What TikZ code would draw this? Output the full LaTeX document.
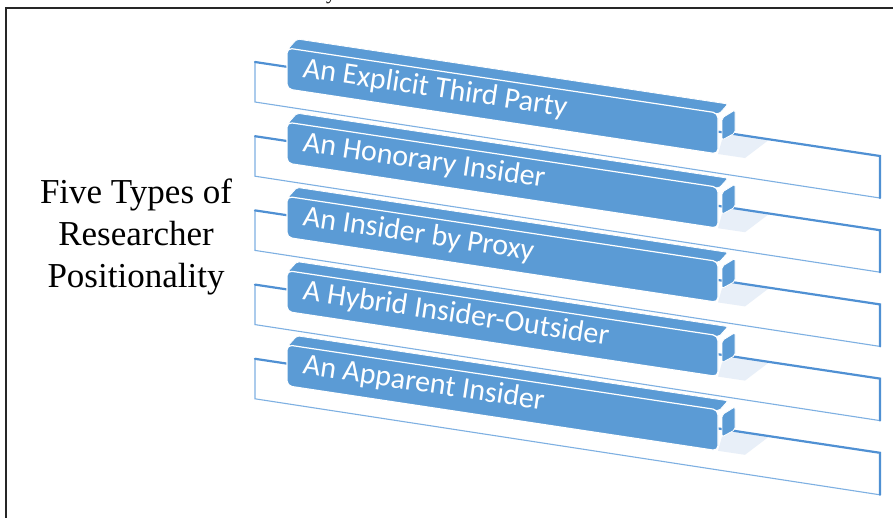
\documentclass[tikz,border=0pt]{standalone}
\usepackage{fontspec}
\newfontfamily\barfont{Carlito}
\newfontfamily\titlefont{Liberation Serif}
\definecolor{barblue}{HTML}{5B9BD5}
\definecolor{lineblue}{HTML}{4F90D3}
\definecolor{thinblue}{HTML}{7EB0E2}
\definecolor{shadowblue}{HTML}{E8EFF8}
\begin{document}
\begin{tikzpicture}[x=1pt,y=-1pt,
  panelthick/.style={draw=lineblue,line width=2.2pt,line cap=round},
  panelthin/.style={draw=thinblue,line width=1.1pt,line cap=round},
  barface/.style={fill=barblue,draw=white,line width=1.2pt,rounded corners=5pt},
  bartop/.style={fill=barblue,draw=white,line width=0.8pt,rounded corners=2pt},
  bartext/.style={text=white,font=\barfont\fontsize{30}{34}\selectfont,anchor=base west,rotate=-8.55,inner sep=0pt},
  titletext/.style={font=\titlefont\fontsize{35}{40}\selectfont,anchor=base,inner sep=0pt}]
\useasboundingbox (0,0) rectangle (893,517);
\fill[white] (0,0) rectangle (893,517);
% frame
\draw[line width=2pt,black!85] (893,8) -- (6,8) -- (6,520);
\node[font=\titlefont\fontsize{20}{20}\selectfont,anchor=base,inner sep=0pt] (cut) at (331,-1) {y};
% title
\node[titletext] (title1) at (136,203) {Five Types of};
\node[titletext] (title2) at (136,245) {Researcher};
\node[titletext] (title3) at (136,287) {Positionality};
% items
\foreach \i/\txt in {0/An Explicit Third Party,1/An Honorary Insider,2/An Insider by Proxy,3/A Hybrid Insider-Outsider,4/An Apparent Insider}{
  \pgfmathsetmacro\B{48+74.2*\i}
  % back panel
  \fill[white] (255,\B+14) -- (880,\B+108) -- (880,\B+150) -- (255,\B+54) -- cycle;
  \fill[shadowblue] (722,\B+92) -- (735,\B+85) -- (770,\B+91) -- (745,\B+110) -- (718,\B+106) -- cycle;
  \draw[panelthin] (880,\B+150) -- (255,\B+54) -- (255,\B+14);
  \draw[panelthick] (255,\B+14) -- (880,\B+108) -- (880,\B+150);
  % bar
  \path[bartop] (288,\B+1) -- (297,\B-9) -- (728,\B+56) -- (719,\B+66) -- cycle;
  \path[bartop] (722,\B+70) -- (735,\B+62) -- (735,\B+85) -- (722,\B+92) -- cycle;
  \path[barface] (287,\B) -- (718,\B+65) -- (718,\B+106) -- (287,\B+41) -- cycle;
  \node[bartext] (t\i) at (302,\B+29) {\txt};
}
\end{tikzpicture}
\end{document}
